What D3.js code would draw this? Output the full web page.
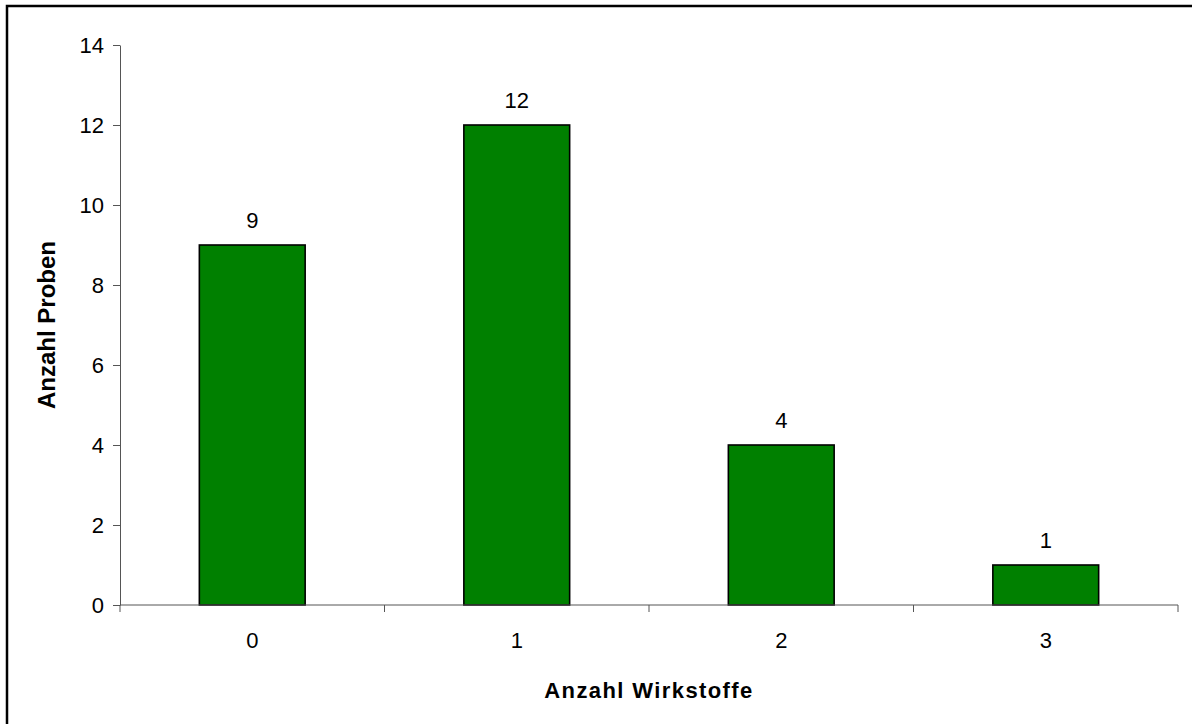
<!DOCTYPE html>
<html>
<head>
<meta charset="utf-8">
<script src="https://cdn.jsdelivr.net/npm/d3@7"></script>
<style>
  html, body { margin: 0; padding: 0; background: #fff; }
  svg { display: block; font-family: "Liberation Sans", Arial, sans-serif; }
</style>
</head>
<body>
<svg id="chart" width="1192" height="724"></svg>
<script>
// Anzahl Proben je Anzahl nachgewiesener Wirkstoffe
const categories = ["0", "1", "2", "3"];
const values = [9, 12, 4, 1];
const yTicks = [0, 2, 4, 6, 8, 10, 12, 14];
const xTitle = "Anzahl Wirkstoffe";
const yTitle = "Anzahl Proben";

const svg = d3.select("#chart");
const plot = { left: 120, right: 1178, top: 45, bottom: 605 };

// outer frame (only left/top edges fall inside the page)
svg.append("rect")
  .attr("x", 7).attr("y", 6)
  .attr("width", 1200).attr("height", 740)
  .attr("fill", "#fff").attr("stroke", "#000").attr("stroke-width", 2.5);

const x = d3.scaleBand().domain(categories).range([plot.left, plot.right]).padding(0);
const y = d3.scaleLinear().domain([0, 14]).range([plot.bottom, plot.top]);

const axisColor = "#555";

// y axis
const yAxis = svg.append("g")
  .attr("transform", `translate(${plot.left},0)`)
  .call(d3.axisLeft(y).tickValues(yTicks).tickSize(7).tickPadding(9).tickSizeOuter(0));
yAxis.select(".domain").attr("stroke", axisColor);
yAxis.selectAll(".tick line").attr("stroke", axisColor);
yAxis.selectAll(".tick text")
  .attr("font-size", 22).attr("fill", "#000")
  .attr("font-family", "'Liberation Sans', Arial, sans-serif");

// bars
const barW = x.bandwidth() * 0.4;
svg.append("g").selectAll("rect")
  .data(values)
  .join("rect")
  .attr("x", (d, i) => x(categories[i]) + (x.bandwidth() - barW) / 2)
  .attr("y", d => y(d))
  .attr("width", barW)
  .attr("height", d => y(0) - y(d))
  .attr("fill", "#008000")
  .attr("stroke", "#000")
  .attr("stroke-width", 1.6);

// x axis with ticks at category boundaries
const xAxisG = svg.append("g").attr("transform", `translate(0,${plot.bottom})`);
xAxisG.append("line")
  .attr("x1", plot.left).attr("x2", plot.right)
  .attr("y1", 0).attr("y2", 0)
  .attr("stroke", axisColor);
const bounds = categories.map(c => x(c)).concat([x(categories[categories.length - 1]) + x.bandwidth()]);
xAxisG.selectAll("line.tick")
  .data(bounds)
  .join("line")
  .attr("class", "tick")
  .attr("x1", d => d).attr("x2", d => d)
  .attr("y1", 0).attr("y2", 7)
  .attr("stroke", axisColor);
xAxisG.selectAll("text")
  .data(categories)
  .join("text")
  .attr("x", d => x(d) + x.bandwidth() / 2)
  .attr("y", 43)
  .attr("text-anchor", "middle")
  .attr("font-size", 22)
  .text(d => d);

// value labels
svg.append("g").selectAll("text")
  .data(values)
  .join("text")
  .attr("x", (d, i) => x(categories[i]) + x.bandwidth() / 2)
  .attr("y", d => y(d) - 17)
  .attr("text-anchor", "middle")
  .attr("font-size", 22)
  .text(d => d);

// axis titles
svg.append("text")
  .attr("x", (plot.left + plot.right) / 2)
  .attr("y", 698)
  .attr("text-anchor", "middle")
  .attr("font-size", 22)
  .attr("font-weight", "bold")
  .attr("letter-spacing", 1.4)
  .text(xTitle);

svg.append("text")
  .attr("transform", `translate(55,${(plot.top + plot.bottom) / 2}) rotate(-90)`)
  .attr("text-anchor", "middle")
  .attr("font-size", 24)
  .attr("font-weight", "bold")
  .text(yTitle);
</script>
</body>
</html>
